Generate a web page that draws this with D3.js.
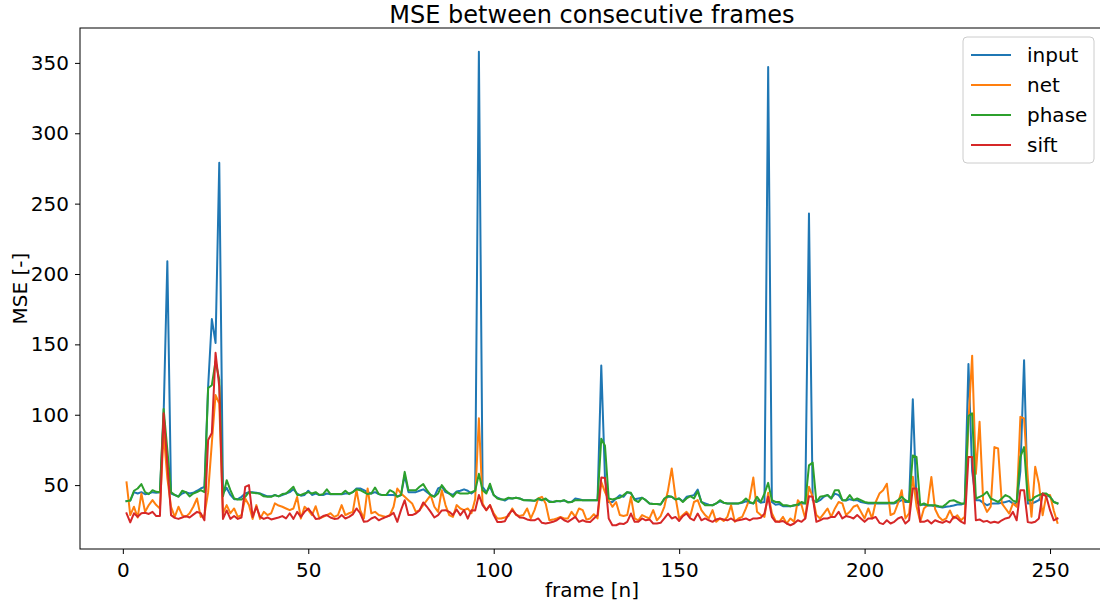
<!DOCTYPE html>
<html><head><meta charset="utf-8">
<script src="https://cdn.jsdelivr.net/npm/d3@7"></script>
<style>body{margin:0;background:#fff}svg{display:block}text{font-family:"DejaVu Sans",sans-serif;fill:#000}</style>
</head><body><svg id="c" width="1100" height="603"></svg>
<script>
const title = "MSE between consecutive frames";
const xLabel = "frame [n]";
const yLabel = "MSE [-]";
const seriesNames = ["input","net","phase","sift"];
const seriesColors = ["#1f77b4","#ff7f0e","#2ca02c","#d62728"];
const xTicks = [0,50,100,150,200,250];
const yTicks = [50,100,150,200,250,300,350];
const firstFrame = 1;

const input = [38.6,39,45,44,45,43.5,44,45,44.5,45,100,209,44,43,42,44,45,44,44.5,46,47.6,48.8,120,168,151,279,44,48,43,40,40,41.7,44,45,45,44.5,44,43,42,42,43,42,43,44,45,47,44,42.5,43,46,43,44,43,43,44,43.5,43.5,43.5,43.5,44,44,45,47.6,47.6,46.4,45,44,45,43.6,42.9,42.9,43,42.9,42,43,57,45,45,45,46,47,45,43,42,47.6,49,45,44,43,45.5,46,47,46,44,46,358,48.8,45,48.8,42.9,41,40,39,40.5,40.5,41,40.5,39.5,39.3,39,38.8,40,39.3,40,38.5,38,38.5,38.5,39,38,38,40.5,40,39.3,39.3,39.3,39.3,39.3,135,55,38,38,40.5,42.8,41.7,45,44,40,40.5,41,39.3,37,36.5,36.5,36.2,40,41.7,41.7,39.8,40.5,38.5,41.7,42.2,42.9,46.8,38,37,36,35.7,37,38.5,37.5,37,37,37,37,37.5,38.5,37.5,37,39.3,37.5,38,347,38,36,36.5,35,35.2,35,35.5,35.7,37,37,243,39.3,38,39.3,41.7,43,40.5,44,42.9,39.3,39,40,39.3,39.3,38,37.5,37,37,37,37,37,37,37,37,38,39.3,38,38,111,38,36,36,35.5,35.5,35,34.6,34,34.6,35,35.5,36.2,36.2,37,136,60,39.3,39.3,37.4,35.7,36.9,36.9,36.9,37.4,38,38.8,36.9,36.9,60,138.8,36.9,36.9,38,39.3,44,42.9,41.7,38.1,37];

const net = [52,28.7,34.6,27,44,31,35.8,39.3,35.8,33.4,87,55,34.6,27.4,34.6,28.7,27.4,30,34.6,40.5,27.4,28.7,45,80,114,108,30,35.8,30,33.4,27.4,28.7,40.5,35.8,26,35.8,26,31,28.7,30,37,35.5,34.6,33.4,32.2,33.4,41.6,26.3,34.6,32.2,28.7,35,26.3,27.4,28.7,30,27.4,28.7,35.8,28.7,30,31,46.4,32.2,26.3,47.6,30,31,28.7,28,27.4,28.7,34.6,47.6,44,41.7,39.3,37,31,32.2,35.8,39.3,42.9,34.6,31,46.4,35.8,28.7,27.4,35.8,33.4,32.2,33.4,30,40,97.5,37,32.2,35.8,30,26.3,26.3,27,28,33.4,28.7,28,28.7,33.4,26.3,32.2,40.5,41.7,37,25,25.5,26.3,27.4,26.3,26.3,31,27.4,33.4,32.2,25.5,26.3,29.3,26.3,52.3,45,39.3,34.6,38,28.7,28,28.7,41.7,26.3,25,28.7,27.4,26.3,32.2,25,28,34.6,46.4,61.8,41.7,26.3,28.7,31,28,38,39.3,32.2,28.7,26.3,32.2,23.9,26.3,24.5,27.4,35.7,23.9,26.3,27.4,33.4,40.5,55.4,31,28.7,27.4,44.5,30,24.5,23.9,27.4,22.7,26.3,23.9,39.3,35.8,26.3,48.8,41.7,28.7,26.3,29.8,33.4,27.4,33.4,38,37,28.7,31,34.6,35.8,31,26.3,33.4,26.3,38,44,46.4,51,28.7,30,37,46.4,26.3,30,56,35,24,33.4,35.8,55.8,33,27.5,25,26.3,32,26.3,28.6,25,27.5,95,142,58,95,37,31,34.6,77,76,37,33.4,29.8,37,34.6,98.5,97.4,55,27.5,63,51,28.6,42.9,42.9,32,23.2];

const phase = [38.6,39,46,47.6,50.7,45,43.6,46.4,45.2,45,104,75,45,43,41.7,46,45,42,44,45,46.4,45,119,121,138,125,42,53.5,46.4,40.5,39.8,39.8,41.7,45,44.5,44.3,43.8,42,41.7,41.7,42.9,42,43.6,44,46.4,48.8,43,43,44,45,44,45,43,43.6,47,43.6,43.6,43.6,43.6,46,43.6,45,47,46.4,45,43.6,44,48.3,43.6,42.9,42.9,46.4,45,41.7,42.9,59.4,46.4,46.4,46.4,48.8,50.7,46.4,42.9,41.7,44,50,46.4,44,41.7,45,44,44,44,45,46,58,46.4,44,51,42.9,40.5,39.8,39.8,41,40.5,41,40.5,39.3,39.3,39.3,38.8,40.5,39.3,40.5,38,38,38.8,38.5,39.3,37.7,38,39.3,39.3,39.3,39.3,39.3,39.3,39.3,83,78,40.5,39.8,40.5,41,42.9,45,44.5,39.3,38,41,39.3,37,36.5,36.5,36.2,40.5,42.2,41.7,39.8,40.5,38,40.5,42.2,40.5,45.6,38,35.7,35.7,35.7,37,39.3,37.5,37,37,37,37,38,40.5,38,37,41.7,38,44,51.6,39.3,38,38,35.7,35.7,35,35.7,36.2,38,37,64,66,38,41.7,42.2,42.9,40.5,46.4,46.4,39.3,39.3,42.9,39.3,40.5,39.3,38,37.5,37.5,37.5,37.5,37.5,37.5,37.5,37.5,39.3,41.7,39.3,38,71,70,35.7,37,35.7,35.7,35.7,35,34.6,36.5,38.8,39.3,38,37,37,99,101,40.5,41.7,42.9,45.2,40.5,39.3,38,40.5,42.9,41.7,39,38,70,77,39.3,39.3,41.7,42.9,44,44,41.7,38,37];

const sift = [30,23.5,30,27.5,30,30.3,29.5,31,28,28,101,65,28.7,26.7,26,27,28,27,29,31,30,25,82,87,144,120,26,32,26,28,26,27,48.8,50,27.4,34.6,27.4,26,27,25.6,26.3,27,28,26.3,30,26,31,27.4,31,33.4,30,26,26.3,28,28.7,27,26,26.3,28.7,26.3,27.4,29.2,33.4,30,23.9,24.3,26.3,27.4,25,26.3,27.4,28.4,30.3,23.9,32.2,39.3,28.7,28.7,29.8,32,37.7,34.6,31,27,28.7,32,32.2,31,28.7,32.7,28.7,32.2,26.2,32.2,32,43,35.8,32.2,35.8,28.7,23.8,23.8,24.3,29.3,32.2,29.3,27,26.8,25.6,25,25,26.3,23.2,22.7,23.2,23.9,25,27,25,23.9,25.6,27.4,23.9,25,23.9,23.7,26.3,28.7,55.4,55,26.3,21.5,21.5,22.7,22.3,23.9,29.8,23.9,23.9,26.3,25,25.6,22.7,22.7,23.2,26.3,29.8,26.3,27.4,24.5,28,29.8,26.3,25,29.8,25,26.3,25,23.9,25.6,26.3,25.6,25,26.3,24.5,25,25.6,26.3,25,26.3,26.3,26.8,29.8,41.7,27.4,23.9,23.9,24.5,22.7,21.5,22.7,25,23.9,26.3,42,41.7,23.9,25,26.3,26.3,27.4,27.4,31,26.3,28,27.4,26.3,28.7,26.3,23.9,26.3,26.3,27.4,23.2,22.3,25,22.7,23.9,26.3,27.4,22.7,25,47.6,47.6,24,23.9,25,22.7,25,24,23.2,24.6,23.4,27.5,26.3,24,22.7,70,70,25,25.6,24,24.6,23.2,24,23.2,25,26.3,27,31,25,46.4,46.4,23.7,23.2,24,26.3,44,41.7,32.2,25,26.3];

const seriesData = [input, net, phase, sift];

const svg = d3.select("#c");
const L = 80, R = 1104, T = 28, B = 549;
const x = d3.scaleLinear().domain([-11.55, 264.55]).range([L, R]);
const y = d3.scaleLinear().domain([4.6, 374.8]).range([B, T]);

// series
const line = d3.line().x((d,i)=>x(firstFrame+i)).y(d=>y(d));
const g = svg.append("g");
seriesData.forEach((s,k)=>{
  g.append("path").datum(s).attr("d", line)
   .attr("fill","none").attr("stroke", seriesColors[k])
   .attr("stroke-width",2).attr("stroke-linejoin","round").attr("stroke-linecap","square");
});

// axes
const xAxis = d3.axisBottom(x).tickValues(xTicks).tickSize(5).tickPadding(6);
const yAxis = d3.axisLeft(y).tickValues(yTicks).tickSize(5).tickPadding(6);
const gx = svg.append("g").attr("transform",`translate(0,${B})`).call(xAxis);
const gy = svg.append("g").attr("transform",`translate(${L},0)`).call(yAxis);
[gx,gy].forEach(a=>{
  a.select(".domain").remove();
  a.selectAll("line").attr("stroke","#000").attr("stroke-width",1);
  a.selectAll("text").style("font-size","20px").style("font-family","DejaVu Sans");
});
gx.selectAll("text").attr("dy","0.85em");

// frame
svg.append("rect").attr("x",L).attr("y",T).attr("width",R-L).attr("height",B-T)
  .attr("fill","none").attr("stroke","#000").attr("stroke-width",1);

// labels
svg.append("text").attr("x",(L+R)/2).attr("y",23).attr("text-anchor","middle")
  .style("font-size","24px").text(title);
svg.append("text").attr("x",592).attr("y",597).attr("text-anchor","middle")
  .style("font-size","20px").text(xLabel);
svg.append("text").attr("transform",`translate(27,${(T+B)/2}) rotate(-90)`).attr("text-anchor","middle")
  .style("font-size","20px").text(yLabel);

// legend
const lg = svg.append("g").attr("transform","translate(963,37)");
lg.append("rect").attr("width",131).attr("height",126).attr("rx",4)
  .attr("fill","#fff").attr("fill-opacity",0.8).attr("stroke","#ccc");
seriesNames.forEach((n,i)=>{
  const yy = 18 + i*30;
  lg.append("line").attr("x1",8).attr("x2",48).attr("y1",yy).attr("y2",yy)
    .attr("stroke",seriesColors[i]).attr("stroke-width",2);
  lg.append("text").attr("x",64).attr("y",yy+7).style("font-size","20px").text(n);
});
</script></body></html>
